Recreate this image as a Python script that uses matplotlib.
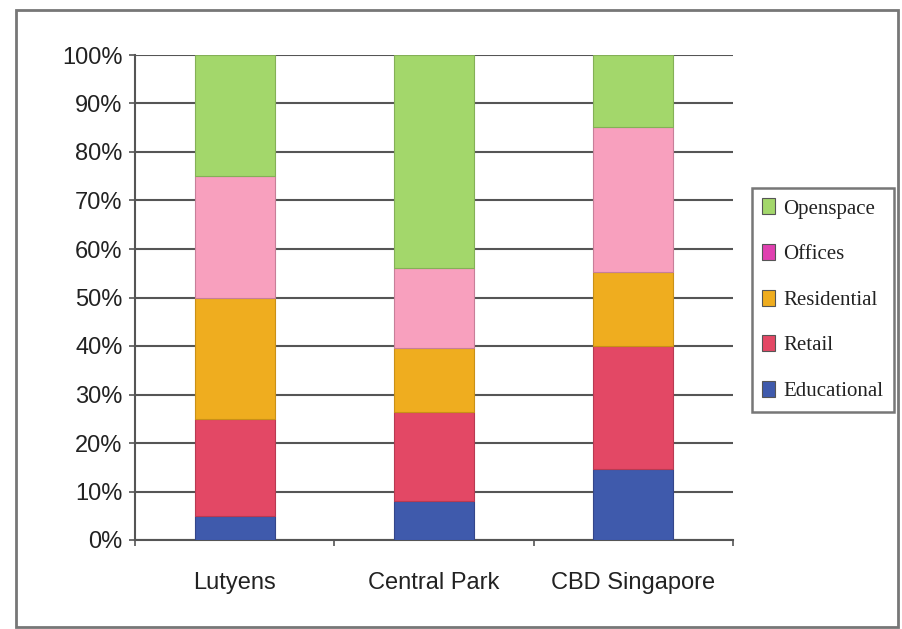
import matplotlib
matplotlib.use('Agg')
import matplotlib.pyplot as plt
from matplotlib.patches import Patch, Rectangle
import numpy as np

# share of land use per district, in percent (bottom to top)
districts = ['Lutyens', 'Central Park', 'CBD Singapore']
uses = ['Educational', 'Retail', 'Residential', 'Offices', 'Openspace']
educational = [5, 8, 14.6]
retail = [20, 18.3, 25.4]
residential = [25, 13.2, 15.3]
offices = [25, 16.6, 29.8]
openspace = [25, 43.9, 14.9]
series = [educational, retail, residential, offices, openspace]

bar_colors = ['#3F5AAC', '#E34865', '#EFAD1F', '#F8A0BE', '#A3D76B']
edge_colors = ['#34468A', '#B83A52', '#C99017', '#C77F99', '#84B057']
legend_colors = ['#3F5AAC', '#E34865', '#EFAD1F', '#E040B0', '#A3D76B']
y_ticks = np.arange(0, 101, 10)
y_labels = ['%d%%' % v for v in y_ticks]

fig = plt.figure(figsize=(9.03, 6.29), dpi=100)
ax = fig.add_axes([135/903, 1 - 540/629, (733 - 135)/903, (540 - 55)/629])

x = np.arange(len(districts))
bottom = np.zeros(len(districts))
for vals, c, ec in zip(series, bar_colors, edge_colors):
    ax.bar(x, vals, width=0.40, bottom=bottom, color=c, edgecolor=ec,
           linewidth=0.8, zorder=3)
    bottom += np.array(vals)

ax.set_xlim(-0.5, 2.5)
ax.set_ylim(0, 100)

tick_font = ['Liberation Sans', 'DejaVu Sans']
ax.set_yticks(y_ticks)
ax.set_yticklabels(y_labels, family=tick_font, fontsize=17, color='#222222')
ax.tick_params(axis='y', length=4, width=1.2, color='#555555', pad=5)
ax.yaxis.grid(True, color='#555555', linewidth=1.5, zorder=0)

ax.set_xticks(x)
ax.set_xticklabels(districts, family=tick_font, fontsize=17, color='#222222')
ax.set_xticks([-0.5, 0.5, 1.5, 2.5], minor=True)
ax.tick_params(axis='x', which='major', length=0, pad=23)
ax.tick_params(axis='x', which='minor', length=4.5, width=1.2, color='#555555')

for side in ['top', 'right']:
    ax.spines[side].set_visible(False)
for side in ['left', 'bottom']:
    ax.spines[side].set_color('#555555')
    ax.spines[side].set_linewidth(1.5)

handles = [Patch(facecolor=c, edgecolor='#555555', linewidth=0.8, label=u)
           for u, c in zip(uses, legend_colors)][::-1]
leg = fig.legend(handles=handles, loc='upper left',
                 bbox_to_anchor=(752/903, 1 - 188/629),
                 prop={'family': ['Liberation Serif', 'DejaVu Serif'], 'size': 15},
                 frameon=True, fancybox=False, handlelength=0.6, handleheight=0.8,
                 handletextpad=0.4, labelspacing=1.22, borderpad=0.5,
                 borderaxespad=0)
leg.get_frame().set_edgecolor('#555555')
leg.get_frame().set_linewidth(1.8)
for t in leg.get_texts():
    t.set_color('#222222')

# outer frame round the whole chart
fig.patches.append(Rectangle((16/903, 1 - 627/629), (898 - 16)/903, (627 - 10)/629,
                             transform=fig.transFigure, fill=False,
                             edgecolor='#777777', linewidth=2))

fig.savefig('out.png', dpi=100)
